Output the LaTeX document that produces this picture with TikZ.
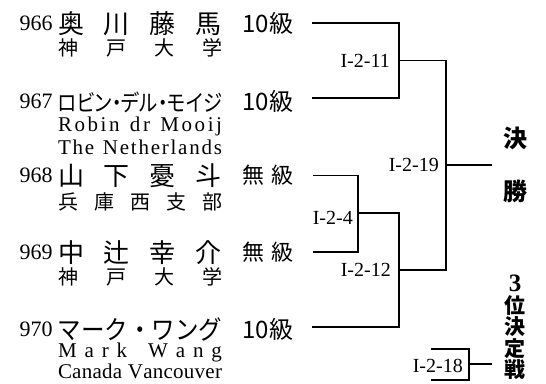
\documentclass[tikz,border=0pt]{standalone}
\usepackage{fontspec}
\setmainfont{Liberation Serif}
\newfontfamily\jpfont{Noto Sans CJK JP}
\newfontfamily\jppfont[RawFeature=+palt]{Noto Sans CJK JP}
\usepackage{graphicx}
\usepackage{tikz}
\usetikzlibrary{positioning}
\newlength{\namew}\setlength{\namew}{164pt}
\makeatletter
\newcommand{\spreadname}[1]{\hbox to\namew{\let\nmsep\relax\@tfor\nmch:=#1\do{\nmsep\nmch\let\nmsep\hfil}}}
\makeatother
\newcommand{\squeezename}[1]{\resizebox{\namew}{\height}{#1}}
\tikzset{
  num/.style={inner sep=0pt, font=\fontsize{22}{22}\selectfont},
  player/.style={inner sep=0pt, text height=22pt, text depth=2pt, font=\jpfont\fontsize{26}{26}\selectfont},
  sub/.style={inner sep=0pt, text height=17pt, text depth=2pt, font=\jpfont\fontsize{20}{20}\selectfont},
  latin/.style={inner sep=0pt, text height=14pt, text depth=5pt, font=\fontsize{21}{21}\selectfont},
  grade/.style={inner sep=0pt, font=\jpfont\fontsize{24}{24}\selectfont},
  nograde/.style={inner sep=0pt, font=\jpfont\fontsize{22}{22}\selectfont},
  match/.style={inner sep=0pt, font=\fontsize{20}{20}\selectfont},
  winlbl/.style={inner sep=0pt, align=center, font=\jpfont\bfseries\fontsize{24}{53}\selectfont},
  wire/.style={line width=1.2pt},
}

\begin{document}
\begin{tikzpicture}[x=1pt, y=-1pt]
  \useasboundingbox (0,0) rectangle (546,383);
  % players
  \node[player] (nm966) at (140,23) {\spreadname{奥川藤馬}};
  \node[num, left=5pt of nm966] (n966) {966};
  \node[grade, right=20pt of nm966] (g966) {10級};
  \node[sub, below=3pt of nm966] (sb966) {\spreadname{神戸大学}};

  \node[player] (nm967) at (140,101) {\squeezename{\jppfont\fontsize{23}{23}\selectfont ロビン・デル・モイジ}};
  \node[num, left=5pt of nm967] (n967) {967};
  \node[grade, right=20pt of nm967] (g967) {10級};
  \node[latin, below=4pt of nm967] (sb967) {\spreadname{Robin~dr~Mooij}};
  \node[latin, below=3.5pt of sb967] (cn967) {\spreadname{The~Netherlands}};

  \node[player] (nm968) at (140,175.5) {\spreadname{山下憂斗}};
  \node[num, left=5pt of nm968] (n968) {968};
  \node[nograde, right=20pt of nm968] (g968) {\hbox to 51pt{無\hfil 級}};
  \node[sub, below=5pt of nm968] (sb968) {\spreadname{兵庫西支部}};

  \node[player] (nm969) at (140,252) {\spreadname{中辻幸介}};
  \node[num, left=5pt of nm969] (n969) {969};
  \node[nograde, right=20pt of nm969] (g969) {\hbox to 51pt{無\hfil 級}};
  \node[sub, below=3pt of nm969] (sb969) {\spreadname{神戸大学}};

  \node[player] (nm970) at (140,329.5) {\squeezename{マーク・ワング}};
  \node[num, left=5pt of nm970] (n970) {970};
  \node[grade, right=20pt of nm970] (g970) {10級};
  \node[latin, below=2pt of nm970] (sb970) {\spreadname{Mark~Wang}};
  \node[latin, below=1.5pt of sb970] (cn970) {\spreadname{Canada~Vancouver}};

  % bracket
  \coordinate[right=19pt of g966] (s966);
  \coordinate[right=19pt of g967, yshift=3pt] (s967);
  \coordinate[right=19pt of g968] (s968);
  \coordinate[right=19pt of g969] (s969);
  \coordinate[right=19pt of g970, yshift=2.5pt] (s970);
  \coordinate (m11) at (399,60.5);
  \coordinate (m4) at (358,213);
  \coordinate (m12) at (399,270);
  \coordinate (m19) at (446,165);
  \coordinate (m18) at (469,364);
  \coordinate (t18a) at (431,349);
  \coordinate (t18b) at (431,380);
  \coordinate (fin) at (492,165);
  \coordinate (thd) at (492,364);

  \draw[wire] (s966) -| (m11) |- (s967);
  \draw[wire] (s968) -| (m4) |- (s969);
  \draw[wire] (m4) -| (m12) |- (s970);
  \draw[wire] (m11) -| (m19) |- (m12);
  \draw[wire] (m19) -- (fin);
  \draw[wire] (t18a) -| (m18) |- (t18b);
  \draw[wire] (m18) -- (thd);

  \node[match, left=9pt of m11] (l11) {I-2-11};
  \node[match, left=7pt of m19] (l19) {I-2-19};
  \node[match, left=5pt of m4, yshift=-5pt] (l4) {I-2-4};
  \node[match, left=8pt of m12] (l12) {I-2-12};
  \node[match, left=6pt of m18, yshift=-2pt] (l18) {I-2-18};

  \node[winlbl, right=11pt of fin] (win) {決\\勝};
  \node[winlbl, font=\jpfont\bfseries\fontsize{21}{21.5}\selectfont, anchor=north] (third) at (515,275) {{\rmfamily\fontsize{25}{21.5}\selectfont 3}\\位\\決\\定\\戦};
\end{tikzpicture}
\end{document}
